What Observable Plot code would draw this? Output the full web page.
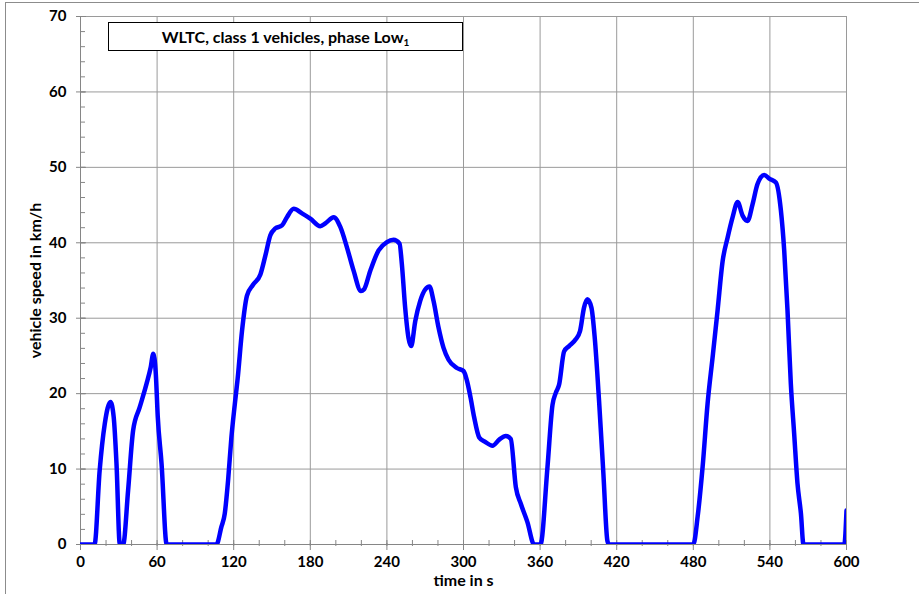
<!DOCTYPE html>
<html><head><meta charset="utf-8">
<script src="https://cdn.jsdelivr.net/npm/d3@7"></script>
<script src="https://cdn.jsdelivr.net/npm/@observablehq/plot@0.6"></script>
<style>
body{margin:0;background:#fff;}
#wrap{position:relative;width:919px;height:594px;overflow:hidden;font-family:Lato,"Open Sans",sans-serif;}
#frame{position:absolute;left:5px;top:2px;width:1000px;height:1000px;border-left:1px solid #8c8c8c;border-top:1px solid #8c8c8c;box-sizing:border-box;}
#chart{position:absolute;left:0;top:0;}
#title{position:absolute;left:108px;top:22px;width:355px;height:29px;box-sizing:border-box;border:1px solid #000;background:#fff;font-weight:bold;font-size:16px;text-align:center;line-height:27px;color:#000;}
#title span{font-size:10px;position:relative;top:3px;}
</style></head><body>
<div id="wrap"><div id="frame"></div><div id="chart"></div><div id="title">WLTC, class 1 vehicles, phase Low<span>1</span></div></div>
<script>
const timeS = [0,11,15,19,23.5,26,28.2,30.8,33.4,37.3,41.2,46.4,51.7,55,57,59,60.5,63.5,67.5,106.5,110.3,113,115.6,118.2,120.8,123.1,126.5,130.4,135,140.9,144.8,148.7,152.6,157.8,161.7,167,173.5,180,187.8,192,198.3,203.5,208.7,213.9,219.7,222,227,233.5,240,245.2,249.9,251.7,254.3,256.9,259,262.2,266.1,270,273.4,276.5,280.4,284.3,288.3,294.8,300,302.6,305.5,308.3,312.3,317,322.7,328,333.1,337,341,344.9,350,355.3,360.3,365.7,369.7,372.3,374.9,378.8,382.7,387.9,391.3,394.4,397,400.2,402.8,406.2,409.6,412.7,414,480,483.4,487.3,491.2,495.1,499,503,506.9,510.8,514.7,518.6,522.5,526.4,530.3,535.6,539.5,544.7,548.6,551.2,553.8,556.4,559,561.6,564.3,566.3,598.3,600];
const speedKmh = [0,0,9.8,16,18.9,16.9,10.7,0,0,7.2,15.1,18.2,21.3,23.5,25.3,22.6,17,10.7,0,0,2.3,4.1,8.5,14.2,18.5,22,28.3,33,34.4,35.8,38.3,41,41.9,42.3,43.4,44.5,43.9,43.2,42.2,42.6,43.4,42.1,39.4,36.3,33.6,33.8,36.3,39,40.1,40.4,39.9,37.2,31.4,27.4,26.3,29.6,32.3,33.8,34.2,32.3,28.8,26.1,24.5,23.4,23,21.8,19.5,16.9,14.2,13.6,13.1,13.9,14.4,14,7.6,5.4,3,0,0,10.1,18.5,20.1,21.2,25.6,26.3,27.2,28.3,31.4,32.5,31.4,27.4,19,9.3,0.5,0,0,3.7,10.3,18.7,24.8,31,37.6,40.7,43.4,45.4,43.6,42.9,45.1,47.8,49,48.5,48,44.3,39,31,21.3,14.7,8.1,4.1,0,0,4.5];
const xTicks = [0,60,120,180,240,300,360,420,480,540,600];
const xMinorTicks = d3.range(0, 601, 20);
const yTicks = [0,10,20,30,40,50,60,70];
const yMinorTicks = d3.range(0, 71, 2);
const xLabel = "time in s";
const yLabel = "vehicle speed in km/h";

const data = timeS.map((t, i) => ({t, v: speedKmh[i]}));
const gridColor = "#9a9a9a";
const axisColor = "#868686";
const font = {fontSize: 15, fontWeight: "bold", fill: "#000"};
const labelFont = {fontSize: 16, fontWeight: "bold", fill: "#000"};

const chart = Plot.plot({
  width: 919, height: 594,
  marginLeft: 80, marginRight: 73, marginTop: 16, marginBottom: 50,
  style: {fontFamily: "Lato, 'Open Sans', sans-serif", background: "transparent", overflow: "visible"},
  x: {domain: [0, 600]},
  y: {domain: [0, 70]},
  marks: [
    Plot.gridX(xTicks, {stroke: gridColor, strokeOpacity: 1}),
    Plot.gridY(yTicks, {stroke: gridColor, strokeOpacity: 1}),
    Plot.ruleX([0], {stroke: axisColor}),
    Plot.ruleY([0], {stroke: axisColor}),
    Plot.axisX(xMinorTicks, {tickSize: 6, dy: -4, stroke: axisColor, tickFormat: () => "", label: null}),
    Plot.axisX(xTicks, {tickSize: 7, dy: -1, stroke: axisColor, tickFormat: () => "", label: null}),
    Plot.axisX(xTicks, {tickSize: 0, tickPadding: 12, ...font, label: null}),
    Plot.axisY(yMinorTicks, {tickSize: 5, dx: 5, stroke: axisColor, tickFormat: () => "", label: null}),
    Plot.axisY(yTicks, {tickSize: 10, dx: 6, stroke: axisColor, tickFormat: () => "", label: null}),
    Plot.axisY(yTicks, {tickSize: 0, tickPadding: 14, ...font, label: null}),
    Plot.text([xLabel], {frameAnchor: "bottom", dy: 30, lineAnchor: "top", ...labelFont}),
    Plot.text([yLabel], {frameAnchor: "left", dx: -45, rotate: -90, textAnchor: "middle", lineAnchor: "middle", ...labelFont}),
    Plot.line(data, {x: "t", y: "v", stroke: "#0000ff", strokeWidth: 4.5, curve: "monotone-x", clip: true})
  ]
});
document.getElementById("chart").appendChild(chart);
</script>
</body></html>
